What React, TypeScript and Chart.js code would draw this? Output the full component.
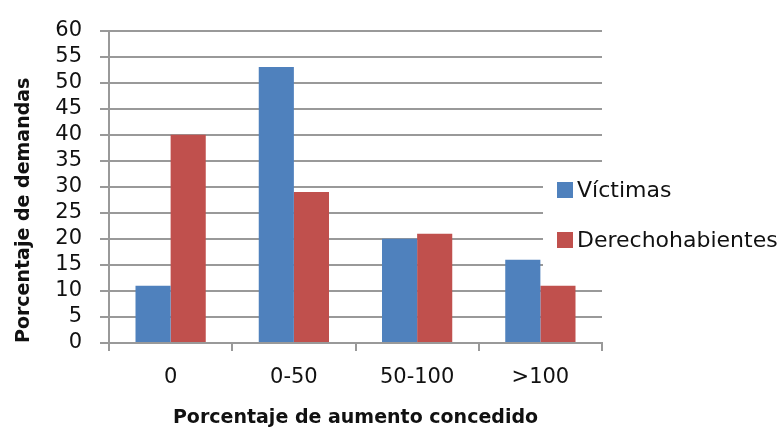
import React, { useEffect, useRef } from "react";
import { Chart, registerables } from "chart.js";

Chart.register(...registerables);

const categories = ["0", "0-50", "50-100", ">100"];
const victimas = [11, 53, 20, 16];
const derechohabientes = [40, 29, 21, 11];
const seriesNames = ["Víctimas", "Derechohabientes"];
const seriesColors = ["#4F81BD", "#C0504D"];
const yTitle = "Porcentaje de demandas";
const xTitle = "Porcentaje de aumento concedido";

const FONT = "'DejaVu Sans', sans-serif";
const GRID = "#999999";

const legendPlugin = {
  id: "overlayLegend",
  afterDraw(chart: any) {
    const ctx = chart.ctx;
    ctx.save();
    ctx.fillStyle = "#ffffff";
    ctx.fillRect(543, 168, 239, 102);
    ctx.font = `22px ${FONT}`;
    ctx.textBaseline = "middle";
    ctx.textAlign = "left";
    chart.data.datasets.forEach((ds: any, i: number) => {
      const cy = 190 + i * 50;
      ctx.fillStyle = ds.backgroundColor;
      ctx.fillRect(557, cy - 8, 16, 16);
      ctx.fillStyle = "#111111";
      ctx.fillText(ds.label, 577, cy + 1);
    });
    ctx.restore();
  },
};

export default function App() {
  const ref = useRef<HTMLCanvasElement>(null);
  useEffect(() => {
    if (!ref.current) return;
    const chart = new Chart(ref.current, {
      type: "bar",
      data: {
        labels: categories,
        datasets: [
          { label: seriesNames[0], data: victimas, backgroundColor: seriesColors[0] },
          { label: seriesNames[1], data: derechohabientes, backgroundColor: seriesColors[1] },
        ],
      },
      options: {
        animation: false,
        responsive: false,
        layout: { padding: { left: 0, right: 180, top: 22, bottom: 0 } },
        datasets: { bar: { categoryPercentage: 0.57, barPercentage: 1 } },
        plugins: { legend: { display: false }, tooltip: { enabled: false } },
        scales: {
          x: {
            grid: { display: true, drawOnChartArea: false, drawTicks: true, tickLength: 8, color: GRID, lineWidth: 2, offset: true },
            border: { display: true, color: GRID, width: 2 },
            ticks: { color: "#111111", font: { family: FONT, size: 21, lineHeight: 1.2 }, padding: 14 },
            title: {
              display: true,
              text: xTitle,
              color: "#111111",
              font: { family: FONT, size: 19, weight: "bold", lineHeight: 1.2 },
              padding: { top: 0, bottom: 6 },
            },
            afterFit(scale: any) {
              scale.height = 92;
            },
          },
          y: {
            min: 0,
            max: 60,
            ticks: { stepSize: 5, autoSkip: false, color: "#111111", font: { family: FONT, size: 21, lineHeight: 1.2 }, padding: 18 },
            grid: { color: GRID, lineWidth: 2, tickLength: 9 },
            border: { display: true, color: GRID, width: 2 },
            title: {
              display: true,
              text: yTitle,
              align: "start",
              color: "#111111",
              font: { family: FONT, size: 19, weight: "bold", lineHeight: 1.2 },
              padding: { top: 13, bottom: 0 },
            },
            afterFit(scale: any) {
              scale.width = 109;
            },
          },
        },
      },
      plugins: [legendPlugin],
    } as any);
    return () => chart.destroy();
  }, []);
  return (
    <div style={{ position: "fixed", left: 0, top: 0, width: 782, height: 435, background: "#fff" }}>
      <canvas ref={ref} width={782} height={435} style={{ display: "block" }} />
    </div>
  );
}
